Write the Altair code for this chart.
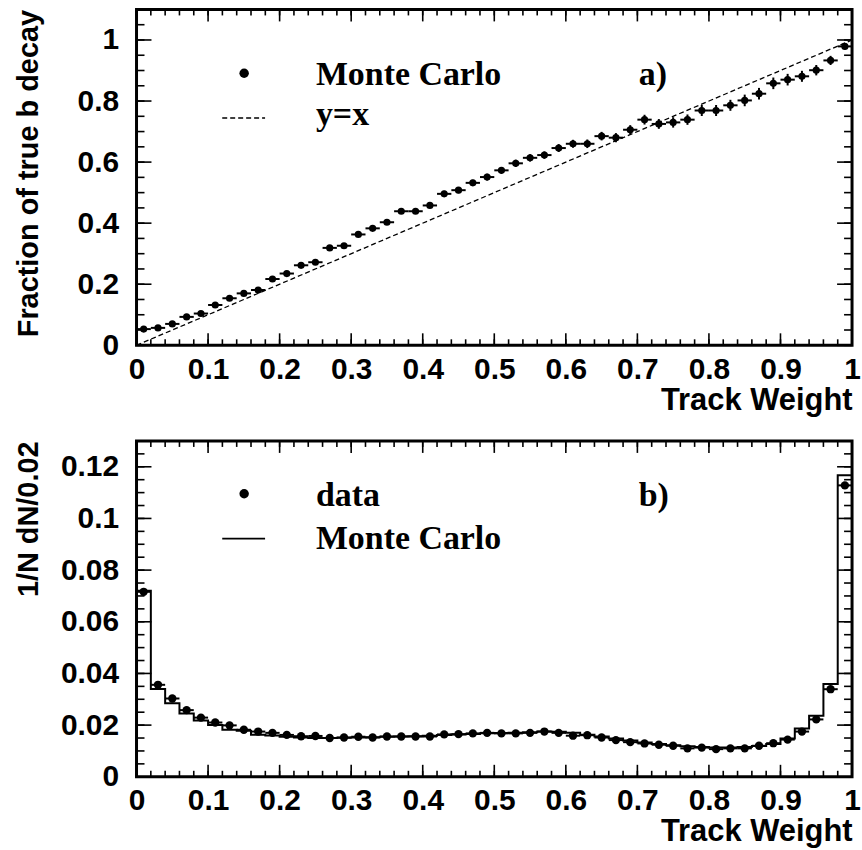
import altair as alt
import pandas as pd

# ---------------- data ----------------
bin_width = 0.02
bin_centers = [round(0.01 + bin_width * i, 2) for i in range(50)]

# panel a) fraction of true b decay (Monte Carlo)
frac_true_b = [0.053, 0.057, 0.070, 0.093, 0.104, 0.132, 0.154, 0.170, 0.181, 0.217,
               0.235, 0.262, 0.272, 0.319, 0.326, 0.363, 0.383, 0.403, 0.439, 0.439,
               0.458, 0.496, 0.508, 0.532, 0.551, 0.573, 0.596, 0.614, 0.623, 0.646,
               0.660, 0.660, 0.685, 0.680, 0.706, 0.739, 0.725, 0.730, 0.739, 0.769,
               0.769, 0.786, 0.802, 0.824, 0.858, 0.870, 0.881, 0.901, 0.933, 0.979]
frac_err = [0.004, 0.004, 0.004, 0.005, 0.005, 0.005, 0.005, 0.005, 0.006, 0.006,
            0.006, 0.006, 0.007, 0.007, 0.007, 0.008, 0.008, 0.008, 0.009, 0.009,
            0.009, 0.010, 0.010, 0.010, 0.011, 0.011, 0.012, 0.012, 0.012, 0.013,
            0.013, 0.014, 0.014, 0.015, 0.015, 0.016, 0.016, 0.017, 0.017, 0.018,
            0.018, 0.018, 0.019, 0.019, 0.019, 0.019, 0.018, 0.017, 0.015, 0.010]
diag_x = [0.0, 1.0]
diag_y = [0.0, 1.0]

# panel b) 1/N dN/0.02
data_dist = [0.0716, 0.0356, 0.0303, 0.0258, 0.0229, 0.0210, 0.0199, 0.0182, 0.0175, 0.0170,
             0.0162, 0.0157, 0.0158, 0.0150, 0.0152, 0.0155, 0.0152, 0.0156, 0.0156, 0.0156,
             0.0156, 0.0164, 0.0165, 0.0168, 0.0170, 0.0168, 0.0168, 0.0170, 0.0175, 0.0170,
             0.0159, 0.0161, 0.0152, 0.0142, 0.0134, 0.0129, 0.0124, 0.0120, 0.0110, 0.0113,
             0.0107, 0.0110, 0.0110, 0.0120, 0.0130, 0.0144, 0.0175, 0.0222, 0.0339, 0.1128]
mc_dist = [0.0720, 0.0340, 0.0285, 0.0245, 0.0218, 0.0200, 0.0182, 0.0178, 0.0163, 0.0160,
           0.0155, 0.0152, 0.0150, 0.0150, 0.0151, 0.0152, 0.0153, 0.0155, 0.0156, 0.0157,
           0.0159, 0.0162, 0.0164, 0.0166, 0.0168, 0.0169, 0.0170, 0.0172, 0.0175, 0.0174,
           0.0170, 0.0163, 0.0156, 0.0148, 0.0140, 0.0133, 0.0127, 0.0122, 0.0118, 0.0115,
           0.0113, 0.0113, 0.0115, 0.0119, 0.0127, 0.0148, 0.0187, 0.0236, 0.0359, 0.1167]

# axis tick values
x_labels = [0.0, 0.1, 0.2, 0.3, 0.4, 0.5, 0.6, 0.7, 0.8, 0.9, 1.0]
x_minor = [round(0.02 * i, 2) for i in range(51)]
ya_labels = [0.0, 0.2, 0.4, 0.6, 0.8, 1.0]
ya_minor = [round(0.05 * i, 2) for i in range(23)]
yb_labels = [0.0, 0.02, 0.04, 0.06, 0.08, 0.10, 0.12]
yb_minor = [round(0.005 * i, 3) for i in range(27)]

# ---------------- styling ----------------
W, H = 718, 337
SANS = "Liberation Sans"
SERIF = "Liberation Serif"
X_MAJ, X_MIN = 12, 6
Y_MAJ, Y_MIN = 15, 8


def x_scale():
    return alt.Scale(domain=[0, 1], nice=False, zero=False)


def x_axis():
    return alt.Axis(values=x_labels, format=".1~f", labelFlush=False, ticks=False,
                    tickSize=0, domain=False, grid=False, labelFont=SANS,
                    labelFontWeight="bold", labelFontSize=30, labelPadding=9,
                    labelColor="black", title="Track Weight", titleFont=SANS,
                    titleFontWeight="bold", titleFontSize=31, titleColor="black",
                    titleAnchor="end", titlePadding=1)


def y_axis(vals, title):
    return alt.Axis(values=vals, format=".2~f", ticks=False, tickSize=0, domain=False,
                    grid=False, labelFont=SANS, labelFontWeight="bold", labelFontSize=30,
                    labelPadding=18, labelColor="black", title=title, titleFont=SANS,
                    titleFontWeight="bold", titleFontSize=29, titleColor="black",
                    titleAnchor="end", titleX=-99, titleBaseline="alphabetic")


def X(field, **kw):
    return alt.X(field, scale=x_scale(), axis=x_axis(), **kw)


def make_Y(yscale, yvals, ytitle):
    def Y(field, **kw):
        return alt.Y(field, scale=yscale, axis=y_axis(yvals, ytitle), **kw)
    return Y


def tick_layers(Y, y_major, y_minor_vals):
    layers = []
    for vals, ln in ((x_labels, X_MAJ), (x_minor, X_MIN)):
        df = pd.DataFrame({"t": vals})
        base = alt.Chart(df).mark_rule(color="black", strokeWidth=1.6)
        layers.append(base.encode(x=X("t:Q"), y=alt.value(H), y2=alt.value(H - ln)))
        layers.append(base.encode(x=X("t:Q"), y=alt.value(0), y2=alt.value(ln)))
    for vals, ln in ((y_major, Y_MAJ), (y_minor_vals, Y_MIN)):
        df = pd.DataFrame({"t": vals})
        base = alt.Chart(df).mark_rule(color="black", strokeWidth=1.6)
        layers.append(base.encode(y=Y("t:Q"), x=alt.value(0), x2=alt.value(ln)))
        layers.append(base.encode(y=Y("t:Q"), x=alt.value(W), x2=alt.value(W - ln)))
    return layers


def legend_text(txt, x, y):
    return alt.Chart(pd.DataFrame({"t": [txt]})).mark_text(
        align="left", baseline="alphabetic", font=SERIF, fontWeight="bold",
        fontSize=34, color="black").encode(x=alt.value(x), y=alt.value(y), text="t:N")


def legend_dot(x, y):
    return alt.Chart(pd.DataFrame({"t": ["dot"]})).mark_circle(
        size=90, color="black", opacity=1).encode(x=alt.value(x), y=alt.value(y))


def legend_line(x1, x2, y, dash=None):
    kw = dict(color="black", strokeWidth=1.6)
    if dash:
        kw["strokeDash"] = dash
    return alt.Chart(pd.DataFrame({"t": ["line"]})).mark_rule(**kw).encode(
        x=alt.value(x1), x2=alt.value(x2), y=alt.value(y))


# ---------------- panel a ----------------
Ya = make_Y(alt.Scale(domain=[0, 1.1], nice=False, zero=False), ya_labels,
            "Fraction of true b decay")
dfa = pd.DataFrame({"w": bin_centers, "f": frac_true_b, "e": frac_err})
dfa["lo"] = dfa["w"] - bin_width / 2
dfa["hi"] = dfa["w"] + bin_width / 2
dfa["flo"] = dfa["f"] - dfa["e"]
dfa["fhi"] = dfa["f"] + dfa["e"]

pts_a = alt.Chart(dfa).mark_circle(size=52, color="black", opacity=1).encode(
    x=X("w:Q"), y=Ya("f:Q"))
xerr_a = alt.Chart(dfa).mark_rule(color="black", strokeWidth=2).encode(
    x=X("lo:Q"), x2="hi:Q", y=Ya("f:Q"))
yerr_a = alt.Chart(dfa).mark_rule(color="black", strokeWidth=2).encode(
    x=X("w:Q"), y=Ya("flo:Q"), y2="fhi:Q")
diag = alt.Chart(pd.DataFrame({"x": diag_x, "y": diag_y})).mark_line(
    color="black", strokeWidth=1.3, strokeDash=[5, 3]).encode(x=X("x:Q"), y=Ya("y:Q"))

panel_a = alt.layer(
    pts_a, xerr_a, yerr_a, diag,
    *tick_layers(Ya, ya_labels, ya_minor),
    legend_dot(108, 64), legend_text("Monte Carlo", 180, 76),
    legend_line(86, 129, 109, [5, 3]), legend_text("y=x", 180, 116),
    legend_text("a)", 504, 76),
).properties(width=W, height=H)

# ---------------- panel b ----------------
Yb = make_Y(alt.Scale(domain=[0, 0.13], nice=False, zero=False), yb_labels, "1/N dN/0.02")
dfb = pd.DataFrame({"w": bin_centers, "d": data_dist})
dfb["lo"] = dfb["w"] - bin_width / 2
dfb["hi"] = dfb["w"] + bin_width / 2

step_x, step_y = [0.0], [0.0]
for c, v in zip(bin_centers, mc_dist):
    step_x += [c - bin_width / 2, c + bin_width / 2]
    step_y += [v, v]
step_x.append(1.0)
step_y.append(0.0)
dfh = pd.DataFrame({"x": step_x, "y": step_y, "o": list(range(len(step_x)))})

hist = alt.Chart(dfh).mark_line(color="black", strokeWidth=2).encode(
    x=X("x:Q"), y=Yb("y:Q"), order="o:Q")
xerr_b = alt.Chart(dfb).mark_rule(color="black", strokeWidth=2).encode(
    x=X("lo:Q"), x2="hi:Q", y=Yb("d:Q"))
pts_b = alt.Chart(dfb).mark_circle(size=70, color="black", opacity=1).encode(
    x=X("w:Q"), y=Yb("d:Q"))

panel_b = alt.layer(
    pts_b, hist, xerr_b,
    *tick_layers(Yb, yb_labels, yb_minor),
    legend_dot(108, 53), legend_text("data", 180, 65), legend_text("b)", 504, 65),
    legend_line(86, 129, 98), legend_text("Monte Carlo", 180, 108),
).properties(width=W, height=H)

chart = alt.vconcat(panel_a, panel_b, spacing=21).properties(
    padding={"left": 13, "top": 5, "right": 0, "bottom": 0},
    background="white",
).configure_view(stroke="black", strokeWidth=3)

chart.save("out.html", embed_options={"renderer": "svg", "actions": False})
